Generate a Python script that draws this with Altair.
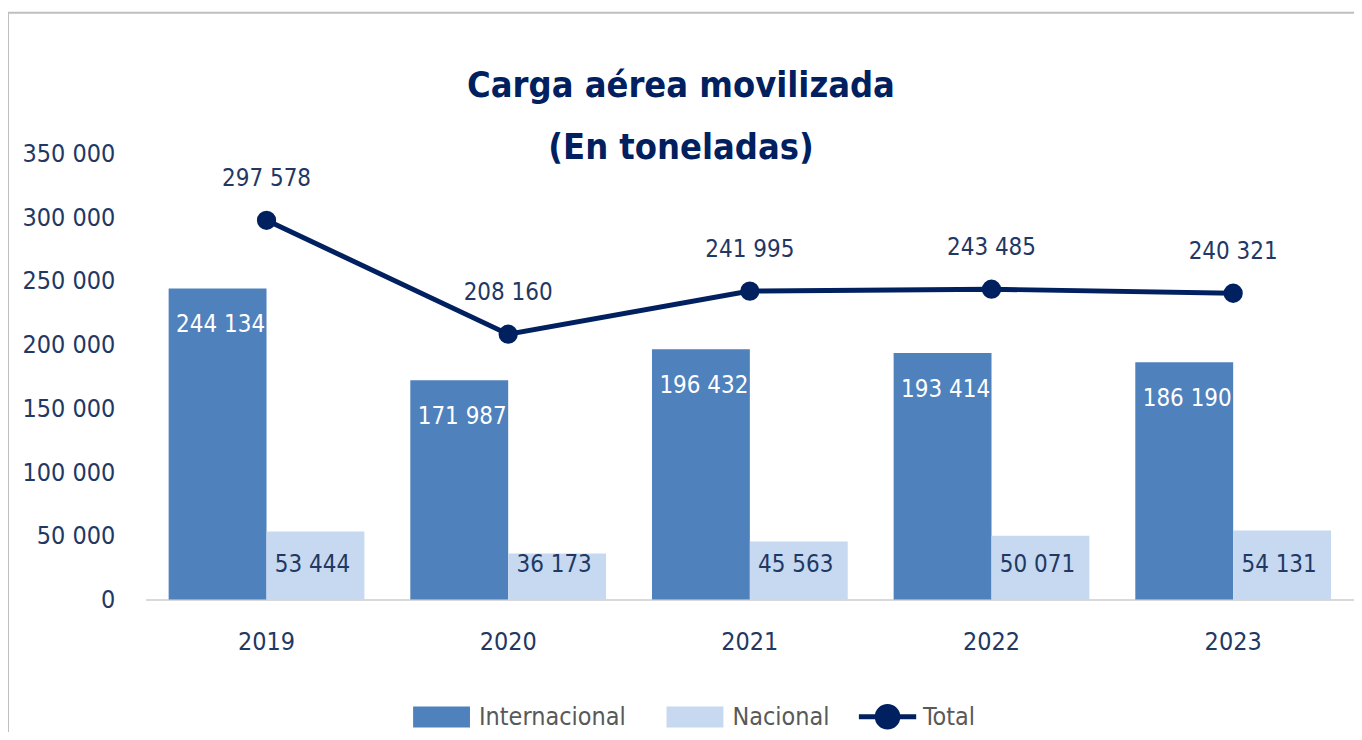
import altair as alt
import pandas as pd

years = ["2019", "2020", "2021", "2022", "2023"]
internacional = [244134, 171987, 196432, 193414, 186190]
nacional = [53444, 36173, 45563, 50071, 54131]
total = [297578, 208160, 241995, 243485, 240321]
series = ["Internacional", "Nacional"]
y_ticks = [0, 50000, 100000, 150000, 200000, 250000, 300000, 350000]

FONT = "DejaVu Sans Condensed, sans-serif"
NAVY = "#002060"
LABEL = "#1F3864"
C_INT = "#4F81BD"
C_NAC = "#C6D9F0"

bars_df = pd.DataFrame(
    {
        "year": years * 2,
        "serie": [series[0]] * len(years) + [series[1]] * len(years),
        "value": internacional + nacional,
    }
)
total_df = pd.DataFrame({"year": years, "serie": ["Total"] * len(years), "value": total})

W, H = 1211, 447
fmt = "replace(format(datum.value, ','), regexp(',', 'g'), ' ')"
FS = 25

x_enc = alt.X(
    "year:N",
    sort=years,
    scale=alt.Scale(paddingInner=0.19, paddingOuter=0.095),
    axis=alt.Axis(
        title=None,
        labelAngle=0,
        labelFontSize=FS,
        labelColor=LABEL,
        labelFont=FONT,
        labelPadding=30,
        ticks=False,
        domain=True,
        domainColor="#D9D9D9",
        domainWidth=2,
        grid=False,
    ),
)
y_scale = alt.Scale(domain=[0, 350000], nice=False)
y_enc = alt.Y(
    "value:Q",
    scale=y_scale,
    axis=alt.Axis(
        title=None,
        values=y_ticks,
        labelExpr=fmt,
        labelFontSize=FS,
        labelColor=LABEL,
        labelFont=FONT,
        labelPadding=31,
        ticks=False,
        domain=False,
        grid=False,
    ),
)

base_bars = alt.Chart(bars_df)

bars = base_bars.mark_bar().encode(
    x=x_enc,
    xOffset=alt.XOffset("serie:N", sort=series, scale=alt.Scale(paddingInner=0, paddingOuter=0)),
    y=y_enc,
    fill=alt.Fill(
        "serie:N",
        sort=series,
        scale=alt.Scale(domain=series, range=[C_INT, C_NAC]),
        legend=alt.Legend(
            title=None,
            orient="none",
            legendX=268,
            legendY=536,
            direction="horizontal",
            symbolType="M-1,-0.37H1V0.37H-1Z",
            symbolSize=3249,
            symbolStrokeWidth=0,
            labelFont=FONT,
            labelFontSize=FS,
            labelColor="#595959",
            labelOffset=9,
            columnPadding=40,
        ),
    ),
)

int_labels = (
    base_bars.transform_filter(alt.datum.serie == "Internacional")
    .transform_calculate(label=fmt)
    .mark_text(font=FONT, fontSize=FS - 1, color="white", baseline="middle", dy=37, dx=3)
    .encode(
        x=alt.X("year:N", sort=years),
        xOffset=alt.XOffset("serie:N", sort=series),
        y=alt.Y("value:Q"),
        text="label:N",
    )
)

nac_labels = (
    base_bars.transform_filter(alt.datum.serie == "Nacional")
    .transform_calculate(label=fmt)
    .mark_text(font=FONT, fontSize=FS - 1, color=LABEL, baseline="middle", dy=-35, dx=-3)
    .encode(
        x=alt.X("year:N", sort=years),
        xOffset=alt.XOffset("serie:N", sort=series),
        y=alt.datum(0),
        text="label:N",
    )
)

line = (
    alt.Chart(total_df)
    .mark_line(strokeWidth=5, point=alt.OverlayMarkDef(size=300, filled=True, color=NAVY))
    .encode(
        x=alt.X("year:N", sort=years),
        y=alt.Y("value:Q"),
        stroke=alt.Stroke(
            "serie:N",
            scale=alt.Scale(domain=["Total"], range=[NAVY]),
            legend=alt.Legend(
                title=None,
                orient="none",
                legendX=712,
                legendY=533,
                direction="horizontal",
                symbolType="M-1,0H1M-0.36,0A0.36,0.36 0 1,0 0.36,0A0.36,0.36 0 1,0 -0.36,0Z",
                symbolSize=3300,
                symbolStrokeWidth=5,
                symbolFillColor=NAVY,
                symbolStrokeColor=NAVY,
                labelFont=FONT,
                labelFontSize=FS,
                labelColor="#595959",
                labelOffset=4,
            ),
        ),
    )
)

total_labels = (
    alt.Chart(total_df)
    .transform_calculate(label=fmt)
    .mark_text(font=FONT, fontSize=FS - 1, color=LABEL, baseline="middle", dy=-41)
    .encode(x=alt.X("year:N", sort=years), y=alt.Y("value:Q"), text="label:N")
)

border = (
    alt.Chart(pd.DataFrame({"a": [0]}))
    .mark_rect(fill=None, stroke="#BFBFBF", strokeWidth=2)
    .encode(
        x=alt.value(-138),
        x2=alt.value(W + 30),
        y=alt.value(-141),
        y2=alt.value(H + 200),
    )
)

chart = (
    alt.layer(border, bars, int_labels, nac_labels, line, total_labels)
    .resolve_scale(fill="independent", stroke="independent")
    .properties(
        width=W,
        height=H,
        autosize=alt.AutoSizeParams(type="none"),
        padding={"left": 138, "top": 145, "right": 0, "bottom": 132},
        view=alt.ViewBackground(stroke="transparent", strokeWidth=0),
        title=alt.TitleParams(
            text=["Carga aérea movilizada", "(En toneladas)"],
            font=FONT,
            fontSize=36,
            fontWeight="bold",
            color=NAVY,
            anchor="middle",
            lineHeight=63,
            dx=-69,
            dy=160,
        ),
    )
    .configure_view(stroke="transparent", strokeWidth=0)
    .configure(background="white")
)

chart.save("out.html", embed_options={"renderer": "svg", "actions": False})
